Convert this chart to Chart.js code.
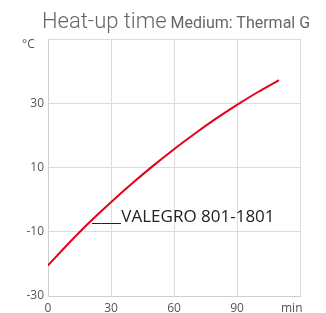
<!DOCTYPE html>
<html>
<head>
<meta charset="utf-8">
<script src="https://cdn.jsdelivr.net/npm/chart.js@4.4.1/dist/chart.umd.min.js"></script>
<style>
  html, body { margin: 0; padding: 0; background: #fff; overflow: hidden; }
  #wrap { position: relative; width: 326px; height: 313px; overflow: hidden; }
  #chart { position: absolute; left: 0; top: 0; }
  .title { position: absolute; left: 42px; top: 10px; line-height: 22px; white-space: nowrap; color: #666; font-family: Roboto, sans-serif; font-weight: 300; }
  .title .main { font-size: 22px; }
  .title .sub { font-size: 16px; font-weight: 400; }
  .unit { position: absolute; font-family: "Open Sans", sans-serif; font-size: 12px; color: #555; }
  #legend { position: absolute; left: 92px; top: 204px; font-family: "Open Sans", sans-serif; font-size: 17px; color: #222; white-space: nowrap; }
  #legend .ln { display: inline-block; transform: scaleX(1.3); transform-origin: left center; margin-right: 7px; }
</style>
</head>
<body>
<div id="wrap">
  <canvas id="chart" width="326" height="313"></canvas>
  <div class="title"><span class="main">Heat-up time</span> <span class="sub">Medium: Thermal G</span></div>
  <div class="unit" style="left:22px; top:35px;">°C</div>
  <div class="unit" style="left:281px; top:299px;">min</div>
  <div id="legend"><span class="ln">___</span>VALEGRO 801-1801</div>
</div>
<script>
const timeMin = [0, 10, 20, 30, 40, 50, 60, 70, 80, 90, 100, 110];
const tempC = [-20.5, -13.5, -6.9, -0.8, 5.0, 10.5, 15.7, 20.6, 25.2, 29.5, 33.5, 37.2];
const xTicks = [0, 30, 60, 90];
const yTicks = [-30, -10, 10, 30];
const seriesName = "VALEGRO 801-1801";

const points = timeMin.map((t, i) => ({ x: t, y: tempC[i] }));

new Chart(document.getElementById('chart'), {
  type: 'line',
  data: {
    datasets: [{
      label: seriesName,
      data: points,
      borderColor: '#e3001b',
      borderWidth: 2,
      pointRadius: 0,
      cubicInterpolationMode: 'monotone',
      fill: false
    }]
  },
  options: {
    responsive: false,
    animation: false,
    layout: { padding: { top: 39, right: 26, left: 0, bottom: 0 } },
    plugins: { legend: { display: false }, title: { display: false }, tooltip: { enabled: false } },
    scales: {
      x: {
        type: 'linear', min: 0, max: 120,
        afterBuildTicks: s => { s.ticks = [...xTicks, 120].map(v => ({ value: v })); },
        afterFit: s => { s.height = 17; },
        grid: { color: '#dcdcdc', drawTicks: false, lineWidth: 1 },
        border: { color: '#cfcfcf' },
        ticks: {
          padding: 5, color: '#555', maxRotation: 0, autoSkip: false,
          font: { family: 'Open Sans', size: 12 },
          callback: v => xTicks.includes(v) ? String(v) : ''
        }
      },
      y: {
        type: 'linear', min: -30, max: 50,
        afterBuildTicks: s => { s.ticks = [...yTicks, 50].map(v => ({ value: v })); },
        afterFit: s => { s.width = 48; },
        grid: { color: '#dcdcdc', drawTicks: false, lineWidth: 1 },
        border: { color: '#cfcfcf' },
        ticks: {
          padding: 4, color: '#555', autoSkip: false,
          font: { family: 'Open Sans', size: 12 },
          callback: v => yTicks.includes(v) ? String(v) : ''
        }
      }
    }
  }
});
</script>
</body>
</html>
